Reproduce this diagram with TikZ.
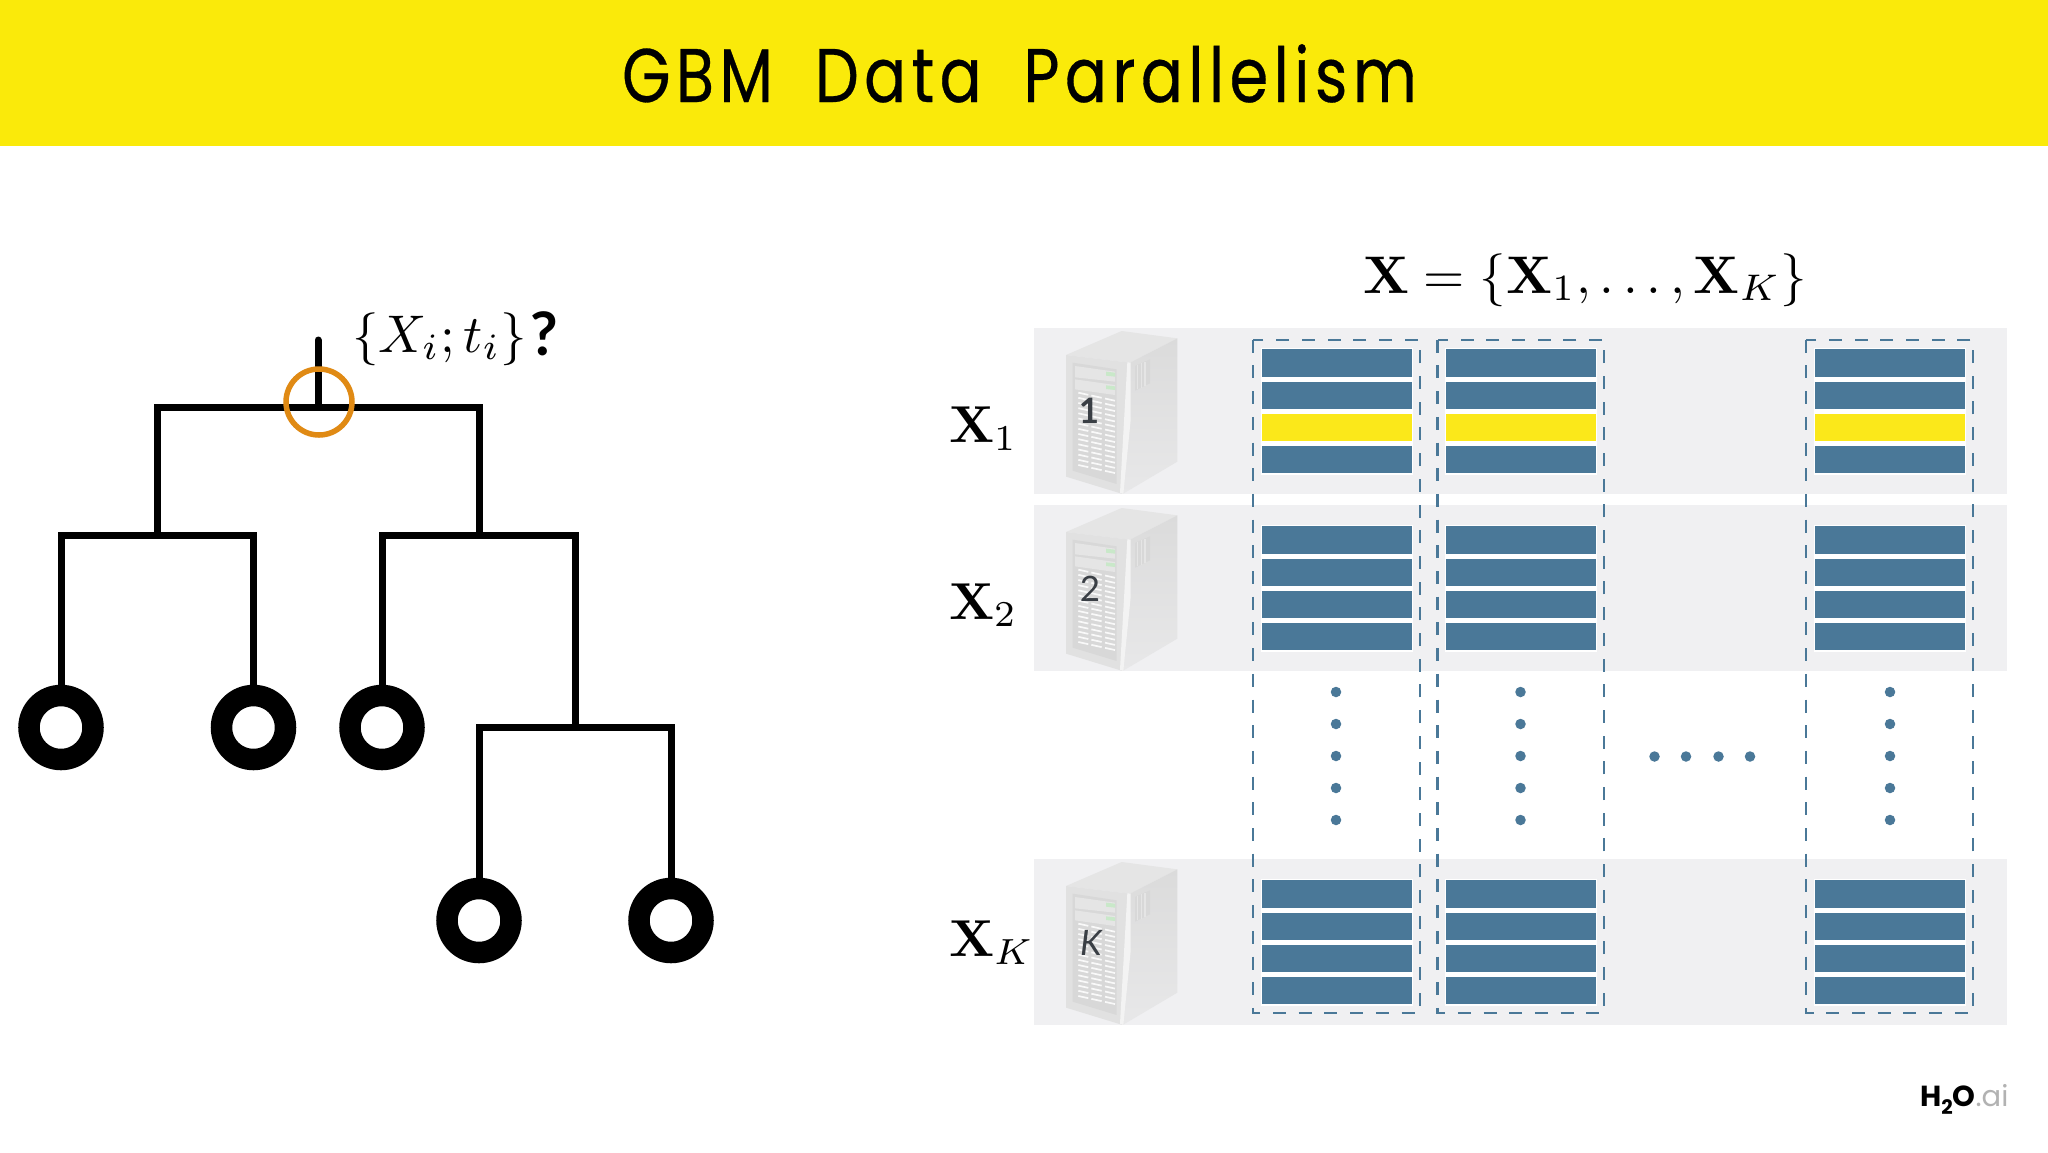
\documentclass[tikz,border=0pt]{standalone}
\usepackage[no-math]{fontspec}
\usepackage{graphicx}
\usetikzlibrary{calc}
\newfontfamily\titlefont[LetterSpace=7,FakeStretch=0.82,FakeBold=0.4,WordSpace=1.9]{Poppins}
\newfontfamily\poppinsfont{Poppins}
\newfontfamily\numfont{Lato}
\definecolor{banner}{HTML}{FAEA0A}
\definecolor{bandgray}{HTML}{F0F0F2}
\definecolor{barblue}{HTML}{4A7898}
\definecolor{baryellow}{HTML}{FBE81A}
\definecolor{ringorange}{HTML}{E08A14}
\definecolor{srvtop}{HTML}{E5E5E5}
\definecolor{srvfront}{HTML}{E1E1E1}
\definecolor{srvside}{HTML}{DBDBDB}
\definecolor{srvsidelow}{HTML}{E8E8E9}
\definecolor{srvpanel}{HTML}{D8D8D8}
\definecolor{numgray}{HTML}{3A3F45}
\tikzset{
  edge/.style={line width=7pt,line join=miter,line cap=round,black},
  leaf/.style={circle,draw=black,fill=white,line width=21.5pt,minimum size=64pt,inner sep=0pt,outer sep=0pt},
  focus/.style={circle,draw=ringorange,line width=5.5pt,minimum size=66pt,inner sep=0pt,outer sep=0pt},
  colbox/.style={draw=barblue,line width=2.3pt,dash pattern=on 13pt off 12.7pt},
  dotmark/.style={circle,fill=barblue,minimum size=10.5pt,inner sep=0pt,outer sep=0pt},
  mathlabel/.style={anchor=base west,inner sep=0pt,outer sep=0pt},
}
\newcommand{\serverdraw}[1]{%
\begin{scope}[shift={(1020,320+#1)},x=0.3333pt,y=-0.3333pt]
  \fill[srvtop] (138,105) -- (305,33) -- (472,55) -- (330,128) -- cycle;
  \shade[top color=srvside,bottom color=srvsidelow] (330,128) -- (472,55) -- (472,425) -- (308,522) -- cycle;
  \fill[srvfront] (138,105) -- (330,128) -- (325,300) -- (308,522) -- (138,470) -- cycle;
  \fill[white!60!srvfront] (322,127) -- (332,128) -- (332,300) -- (310,522) -- (300,518) -- cycle;
  \fill[srvpanel] (158,128) -- (290,148) -- (290,492) -- (158,452) -- cycle;
  \fill[srvtop] (165,138) -- (285,155) -- (285,185) -- (165,172) -- cycle;
  \fill[srvtop] (165,178) -- (285,195) -- (285,225) -- (165,208) -- cycle;
  \fill[green!12!srvtop] (258,155) -- (285,158) -- (285,170) -- (258,167) -- cycle;
  \fill[green!12!srvtop] (258,196) -- (285,199) -- (285,210) -- (258,207) -- cycle;
  \foreach \r in {0,...,14}{
    \foreach \xa/\xb in {175/205,214/245,255/285}{
      \draw[white!85!srvpanel,line width=1.7pt] (\xa,{218+\r*15.5+0.22*(\xa-175)}) -- (\xb,{218+\r*15.5+0.22*(\xb-175)});
    }
  }
  \fill[srvpanel] (345,138) -- (390,118) -- (390,190) -- (345,212) -- cycle;
  \foreach \v in {353,364,375}{
    \draw[srvtop,line width=1.2pt] (\v,{138-(\v-345)*0.44}) -- (\v,{212-(\v-345)*0.48});
  }
\end{scope}}
\begin{document}
\begin{tikzpicture}[x=1pt,y=-1pt]
\useasboundingbox (0,0) rectangle (2048,1152);
\fill[white] (0,0) rectangle (2048,1152);
% banner
\fill[banner] (0,0) rectangle (2048,146);
\node[anchor=base,inner sep=0pt] (title) at (1019.5,102) {\titlefont\fontsize{76}{80}\selectfont GBM Data Parallelism};
% tree
\coordinate (rootTop) at (318,340);
\coordinate (root) at (318,407);
\coordinate (n2L) at (157,535);
\coordinate (n2R) at (479,535);
\coordinate (n3) at (575,727);
\node[leaf] (leafA) at (61,727.5) {};
\node[leaf] (leafB) at (253.5,727.5) {};
\node[leaf] (leafC) at (382,727.5) {};
\node[leaf] (leafD) at (479,920.5) {};
\node[leaf] (leafE) at (671,920.5) {};
\draw[edge] (rootTop) -- (root);
\draw[edge] (n2L) |- (root) -| (n2R);
\draw[edge] (leafA.north) |- (n2L) -| (leafB.north);
\draw[edge] (leafC.north) |- (n2R) -| (n3);
\draw[edge] (leafD.north) |- (n3) -| (leafE.north);
\node[focus] (splitmark) at (319,402) {};
\node[mathlabel] (splitlabel) at (352,352) {\scalebox{5.3}{$\{X_i;t_i\}$}};
\node[mathlabel] (splitq) at (530,355) {\numfont\bfseries\fontsize{60}{60}\selectfont ?};
% formula
\node[mathlabel] (formula) at (1363,293) {\scalebox{5.3}{$\mathbf{X}=\{\mathbf{X}_1,\dots,\mathbf{X}_K\}$}};
% bands
\foreach \dy in {0,177,531}{
  \fill[bandgray] (1034,328+\dy) rectangle (2007,494+\dy);
  \serverdraw{\dy}
  \foreach \xa/\xb in {1261.5/1411.5,1445.5/1596,1814.5/1965}{
    \fill[white] (\xa-1,348+\dy) rectangle (\xb+1,474.5+\dy);
    \foreach \yy in {349.3,381.5,445.5}{
      \fill[barblue] (\xa,\yy+\dy) rectangle (\xb,\yy+27.5+\dy);
    }
  }
}
% third bar of each row
\foreach \dy/\cc in {0/baryellow,177/barblue,531/barblue}{
  \foreach \xa/\xb in {1261.5/1411.5,1445.5/1596,1814.5/1965}{
    \fill[\cc] (\xa,413.5+\dy) rectangle (\xb,441+\dy);
  }
}
% server labels
\node[inner sep=0pt,text=numgray] (srv1) at (1089,411) {\numfont\bfseries\fontsize{35}{40}\selectfont 1};
\node[inner sep=0pt,text=numgray] (srv2) at (1090,589) {\numfont\fontsize{35}{40}\selectfont 2};
\node[inner sep=0pt,text=numgray] (srvK) at (1091,943) {\numfont\itshape\fontsize{35}{40}\selectfont K};
% row labels
\node[mathlabel] (x1) at (949,442.5) {\scalebox{5.2}{$\mathbf{X}_1$}};
\node[mathlabel] (x2) at (949,619) {\scalebox{5.2}{$\mathbf{X}_2$}};
\node[mathlabel] (xK) at (949,956.5) {\scalebox{5.2}{$\mathbf{X}_K$}};
% dashed column boxes
\draw[colbox] (1252.7,339.7) rectangle (1419.7,1013.3);
\draw[colbox] (1437.5,339.7) rectangle (1604.3,1013.3);
\draw[colbox] (1806,339.7) rectangle (1972.7,1013.3);
% dots
\foreach \cx in {1336,1520.5,1890}{
  \foreach \cy in {692,724,756,788,820}{
    \node[dotmark] at (\cx,\cy) {};
  }
}
\foreach \cx in {1654.5,1686,1718.5,1750}{
  \node[dotmark] at (\cx,756.5) {};
}
% logo
\node[anchor=base west,inner sep=0pt] (logo) at (1920,1106.5) {\poppinsfont\fontsize{29}{30}\selectfont\textbf{H\raisebox{-8pt}{\fontsize{20}{20}\selectfont 2}O}\textcolor{black!30}{.ai}};
\end{tikzpicture}
\end{document}
